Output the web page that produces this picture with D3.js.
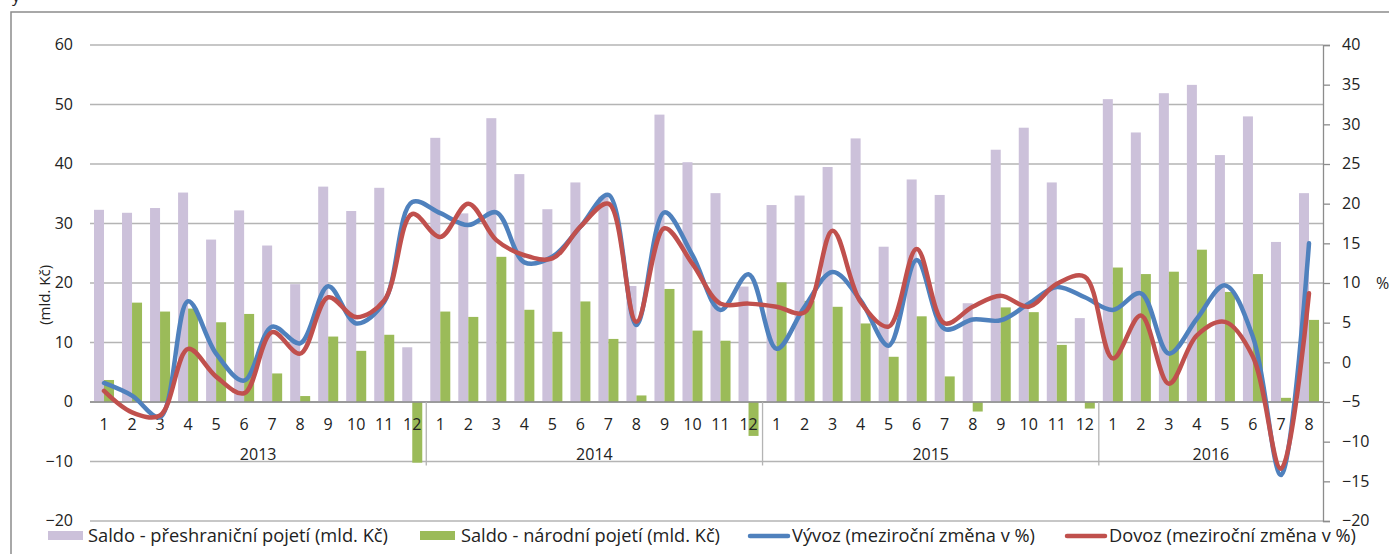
<!DOCTYPE html>
<html>
<head>
<meta charset="utf-8">
<script src="https://cdn.jsdelivr.net/npm/d3@7"></script>
<style>
  body { margin: 0; background: #fff; }
  svg text { font-family: "Open Sans", Lato, sans-serif; fill: #222; }
</style>
</head>
<body>
<div id="app"></div>
<script>
// months per year
const years = ['2013', '2014', '2015', '2016']
const monthsPerYear = [12, 12, 12, 8]

// Saldo - přeshraniční pojetí (mld. Kč)
const saldoCross = [
  32.3, 31.8, 32.6, 35.2, 27.3, 32.2, 26.3, 19.8, 36.2, 32.1, 36.0, 9.2,
  44.4, 31.7, 47.7, 38.3, 32.4, 36.9, 34.5, 19.5, 48.3, 40.3, 35.1, 19.4,
  33.1, 34.7, 39.5, 44.3, 26.1, 37.4, 34.8, 16.6, 42.4, 46.1, 36.9, 14.1,
  50.9, 45.3, 51.9, 53.3, 41.5, 48.0, 26.9, 35.1
]
// Saldo - národní pojetí (mld. Kč)
const saldoNational = [
  3.7, 16.7, 15.2, 15.7, 13.4, 14.8, 4.8, 1.0, 11.0, 8.6, 11.3, -10.2,
  15.2, 14.3, 24.4, 15.5, 11.8, 16.9, 10.6, 1.1, 19.0, 12.0, 10.3, -5.7,
  20.1, 17.0, 16.0, 13.2, 7.6, 14.4, 4.3, -1.6, 15.9, 15.1, 9.6, -1.1,
  22.6, 21.5, 21.9, 25.6, 18.5, 21.5, 0.7, 13.8
]
// Vývoz (meziroční změna v %)
const exportsYoY = [
  -2.6, -4.2, -6.9, 7.7, 1.1, -2.3, 4.5, 2.4, 9.6, 4.9, 7.6, 20.2,
  18.8, 17.3, 18.9, 12.6, 13.3, 17.1, 21.1, 4.7, 18.9, 13.5, 6.6, 11.1,
  1.7, 7.0, 11.4, 7.8, 2.1, 12.9, 4.2, 5.4, 5.3, 7.4, 9.5, 8.2,
  6.6, 8.7, 1.1, 5.5, 9.7, 3.2, -14.2, 15.0
]
// Dovoz (meziroční změna v %)
const importsYoY = [
  -3.6, -6.3, -6.7, 1.7, -1.8, -3.9, 3.8, 1.1, 8.2, 5.7, 7.8, 18.7,
  15.8, 20.0, 15.4, 13.5, 13.1, 17.1, 20.0, 5.1, 16.9, 12.4, 7.4, 7.4,
  7.0, 6.3, 16.6, 7.6, 4.5, 14.3, 4.9, 7.0, 8.4, 7.0, 9.9, 10.8,
  0.5, 5.9, -2.7, 3.4, 5.1, 0.7, -13.4, 8.7
]
const leftTicks = [-20, -10, 0, 10, 20, 30, 40, 50, 60]
const rightTicks = [-20, -15, -10, -5, 0, 5, 10, 15, 20, 25, 30, 35, 40]

const legendLabels = [
  'Saldo - přeshraniční pojetí (mld. Kč)',
  'Saldo - národní pojetí (mld. Kč)',
  'Vývoz (meziroční změna v %)',
  'Dovoz (meziroční změna v %)'
]

const colors = { cross: '#ccc1da', nat: '#9bbb59', exp: '#4f81bd', imp: '#c0504d' }

// month labels + year index per category
const cats = []
years.forEach((y, yi) => {
  for (let m = 1; m <= monthsPerYear[yi]; m++) cats.push({ year: y, month: m })
})

const W = 1389, H = 554
const plotL = 90, plotR = 1323, plotT = 45, plotB = 521
const tickFont = 16

const svg = d3.select('#app').append('svg')
  .attr('width', W).attr('height', H)

// outer frame (cropped)
svg.append('rect')
  .attr('x', 11).attr('y', 12).attr('width', 1500).attr('height', 700)
  .attr('fill', 'none').attr('stroke', '#8c8c8c').attr('stroke-width', 1.5)
svg.append('text').attr('x', 12).attr('y', 2).attr('font-size', 16).text('y')

const x = d3.scaleBand().domain(d3.range(cats.length)).range([plotL, plotR]).paddingInner(0)
const xSub = d3.scaleBand().domain(['cross', 'nat']).range([0, x.bandwidth()]).paddingOuter(0.4)
const yL = d3.scaleLinear().domain([-20, 60]).range([plotB, plotT])
const yR = d3.scaleLinear().domain([-20, 40]).range([plotB, plotT])

// gridlines
svg.append('g').selectAll('line').data(leftTicks).join('line')
  .attr('x1', plotL).attr('x2', plotR)
  .attr('y1', d => yL(d)).attr('y2', d => yL(d))
  .attr('stroke', '#b4b4b4').attr('stroke-width', 1.3)

// left axis labels
const gL = svg.append('g').attr('transform', `translate(${plotL - 17},0)`)
  .call(d3.axisLeft(yL).tickValues(leftTicks).tickSize(0).tickPadding(0))
gL.select('.domain').remove()
gL.selectAll('text').attr('font-size', tickFont).attr('font-family', '"Open Sans", sans-serif').attr('fill', '#222').attr('dy', '0.3em')

// right axis
const gR = svg.append('g').attr('transform', `translate(${plotR},0)`)
  .call(d3.axisRight(yR).tickValues(rightTicks).tickSize(7).tickPadding(12))
gR.select('.domain').attr('stroke', '#8c8c8c').attr('stroke-width', 1.3)
gR.selectAll('.tick line').attr('stroke', '#8c8c8c').attr('stroke-width', 1.3)
gR.selectAll('text').attr('font-size', tickFont).attr('font-family', '"Open Sans", sans-serif').attr('fill', '#222').attr('dy', '0.3em')

// axis titles
svg.append('text')
  .attr('transform', `translate(50,${yL(18)}) rotate(-90)`)
  .attr('text-anchor', 'middle').attr('font-size', 15).text('(mld. Kč)')
svg.append('text').attr('x', 1376).attr('y', yR(10)).attr('dy', '0.35em')
  .attr('font-size', 16).text('%')

// bars
const bars = svg.append('g')
bars.selectAll('rect.cross').data(saldoCross).join('rect')
  .attr('x', (d, i) => x(i) + xSub('cross'))
  .attr('width', xSub.bandwidth())
  .attr('y', d => yL(Math.max(0, d)))
  .attr('height', d => Math.abs(yL(d) - yL(0)))
  .attr('fill', colors.cross)
bars.selectAll('rect.nat').data(saldoNational).join('rect')
  .attr('x', (d, i) => x(i) + xSub('nat'))
  .attr('width', xSub.bandwidth())
  .attr('y', d => yL(Math.max(0, d)))
  .attr('height', d => Math.abs(yL(d) - yL(0)))
  .attr('fill', colors.nat)

// category axis
const y0 = yL(0)
svg.append('line').attr('x1', plotL).attr('x2', plotR).attr('y1', y0).attr('y2', y0)
  .attr('stroke', '#8c8c8c').attr('stroke-width', 1.3)
let idx = 0
const bounds = [0]
monthsPerYear.forEach(n => { idx += n; bounds.push(idx) })
svg.append('g').selectAll('line').data(bounds.slice(1, -1)).join('line')
  .attr('x1', d => plotL + d * x.step()).attr('x2', d => plotL + d * x.step())
  .attr('y1', y0).attr('y2', yL(-10) + 4)
  .attr('stroke', '#b4b4b4').attr('stroke-width', 1.3)
svg.append('g').selectAll('text').data(cats).join('text')
  .attr('x', (d, i) => x(i) + x.bandwidth() / 2)
  .attr('y', y0 + 22)
  .attr('dy', '0.35em')
  .attr('text-anchor', 'middle').attr('font-size', tickFont)
  .text(d => d.month)
svg.append('g').selectAll('text').data(years).join('text')
  .attr('x', (d, i) => plotL + (bounds[i] + bounds[i + 1]) / 2 * x.step())
  .attr('y', y0 + 52)
  .attr('dy', '0.35em')
  .attr('text-anchor', 'middle').attr('font-size', tickFont)
  .text(d => d)

// smoothed lines
const line = d3.line()
  .x((d, i) => x(i) + x.bandwidth() / 2)
  .y(d => yR(d))
  .curve(d3.curveCatmullRom.alpha(0.5))
svg.append('path').attr('d', line(exportsYoY))
  .attr('fill', 'none').attr('stroke', colors.exp).attr('stroke-width', 4.5).attr('stroke-linecap', 'round')
svg.append('path').attr('d', line(importsYoY))
  .attr('fill', 'none').attr('stroke', colors.imp).attr('stroke-width', 4.5).attr('stroke-linecap', 'round')

// legend
const legend = [
  { label: legendLabels[0], type: 'rect', color: colors.cross, x0: 48, tx: 88, tw: 300 },
  { label: legendLabels[1], type: 'rect', color: colors.nat, x0: 420, tx: 461, tw: 259 },
  { label: legendLabels[2], type: 'line', color: colors.exp, x0: 750, tx: 792, tw: 243 },
  { label: legendLabels[3], type: 'line', color: colors.imp, x0: 1067, tx: 1109, tw: 247 }
]
const ly = 536
const lg = svg.append('g')
legend.forEach(l => {
  if (l.type === 'rect') {
    lg.append('rect').attr('x', l.x0).attr('y', ly - 5).attr('width', 35).attr('height', 9).attr('fill', l.color)
  } else {
    lg.append('line').attr('x1', l.x0).attr('x2', l.x0 + 38).attr('y1', ly).attr('y2', ly)
      .attr('stroke', l.color).attr('stroke-width', 4.5).attr('stroke-linecap', 'round')
  }
  lg.append('text').attr('x', l.tx).attr('y', ly).attr('dy', '0.35em')
    .attr('font-size', 17.5)
    .attr('textLength', l.tw).attr('lengthAdjust', 'spacingAndGlyphs')
    .text(l.label)
})
</script>
</body>
</html>
